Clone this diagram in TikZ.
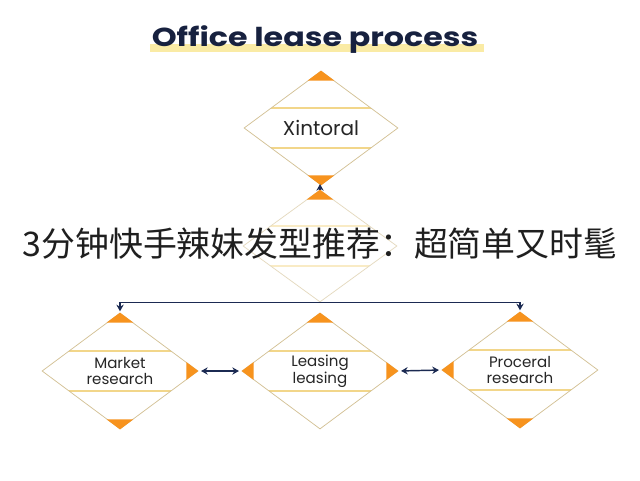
\documentclass[tikz,border=0pt]{standalone}
\usepackage{fontspec}
\usetikzlibrary{shapes.geometric,arrows.meta,calc}
\newfontfamily\dfont{Poppins}
\newfontfamily\tfont{Poppins}
\newfontfamily\cjk{Noto Sans CJK SC}
\definecolor{navy}{HTML}{1B2A52}
\definecolor{titlecol}{HTML}{17213F}
\definecolor{hl}{HTML}{FAEBA5}
\definecolor{edgecol}{HTML}{D3C195}
\definecolor{linecol}{HTML}{F2D68A}
\definecolor{tipcol}{HTML}{F7931E}
\definecolor{txtcol}{HTML}{262626}
\newcommand\tipN[1]{\fill[tipcol] (#1.north) -- ++(-13.4,10) -- ++(26.8,0) -- cycle;}
\newcommand\tipS[1]{\fill[tipcol] (#1.south) -- ++(-13.4,-10) -- ++(26.8,0) -- cycle;}
\newcommand\tipE[1]{\fill[tipcol] (#1.east) -- ++(-12,-8.9) -- ++(0,17.8) -- cycle;}
\newcommand\tipW[1]{\fill[tipcol] (#1.west) -- ++(12,-8.9) -- ++(0,17.8) -- cycle;}
\tikzset{
  dia/.style={shape=diamond, draw=edgecol, line width=0.55pt, inner sep=0pt,
    minimum width=117pt, minimum height=87pt, align=center, text=txtcol,
    font=\dfont\fontsize{11.3}{11.4}\selectfont,
    path picture={
      \draw[linecol, line width=0.8pt] ([yshift=15pt]path picture bounding box.west) -- ([yshift=15pt]path picture bounding box.east);
      \draw[linecol, line width=0.8pt] ([yshift=-15pt]path picture bounding box.west) -- ([yshift=-15pt]path picture bounding box.east);
    }},
  arr/.style={draw=navy, line width=1.1pt, arrows={-Stealth[length=5pt,width=5.5pt]}},
  darr/.style={draw=navy, line width=1.1pt, arrows={Stealth[length=5pt,width=5.5pt]-Stealth[length=5pt,width=5.5pt]}},
}
\begin{document}
\begin{tikzpicture}[x=0.75pt,y=-0.75pt]
\useasboundingbox (0,0) rectangle (640,480);
\fill[white] (0,0) rectangle (640,480);
% title
\fill[hl] (150,44) rectangle (484,52);
\node[anchor=base, inner sep=0pt, text=titlecol, font=\tfont\bfseries\fontsize{19.5}{22}\selectfont] (title) at (315,46.5) {\scalebox{1.22}[1]{Office lease process}};
% diamonds
\node[dia, minimum width=115.5pt, minimum height=85.5pt, font=\dfont\fontsize{15}{16}\selectfont] (xin) at (321,128) {Xintoral};
\node[dia, draw=edgecol!60, minimum width=115.5pt, minimum height=84pt,
  path picture={
      \draw[linecol!50, line width=0.8pt] ([yshift=15pt]path picture bounding box.west) -- ([yshift=15pt]path picture bounding box.east);
      \draw[linecol!50, line width=0.8pt] ([yshift=-15pt]path picture bounding box.west) -- ([yshift=-15pt]path picture bounding box.east);
  }] (mid) at (320,246) {};
\node[dia] (market) at (120,371) {Market\\research};
\node[dia] (leasing) at (320,371) {Leasing\\leasing};
\node[dia] (proceral) at (520,370) {Proceral\\research};
% tips
\tipN{xin}\tipS{xin}
\tipN{mid}
\tipN{market}\tipE{market}\tipS{market}
\tipN{leasing}\tipW{leasing}\tipE{leasing}
\tipN{proceral}\tipW{proceral}\tipS{proceral}
% connectors
\draw[arr, shorten >=-1pt] (mid.north) -- (mid.north |- xin.south);
\draw[darr, shorten <=1pt, shorten >=1pt] (market.north) -- (market.north |- mid.south) -- (proceral.north |- mid.south) -- (proceral.north);
\draw[darr, shorten <=2pt, shorten >=2pt] (market.east) -- (leasing.west);
\draw[darr, shorten <=2pt, shorten >=2pt] (leasing.east) -- (proceral.west);
% overlay text
\node[text=black!88, font=\cjk\fontsize{25.4}{28}\selectfont, inner sep=0pt] (banner) at (320,244) {3分钟快手辣妹发型推荐：超简单又时髦};
\end{tikzpicture}
\end{document}
